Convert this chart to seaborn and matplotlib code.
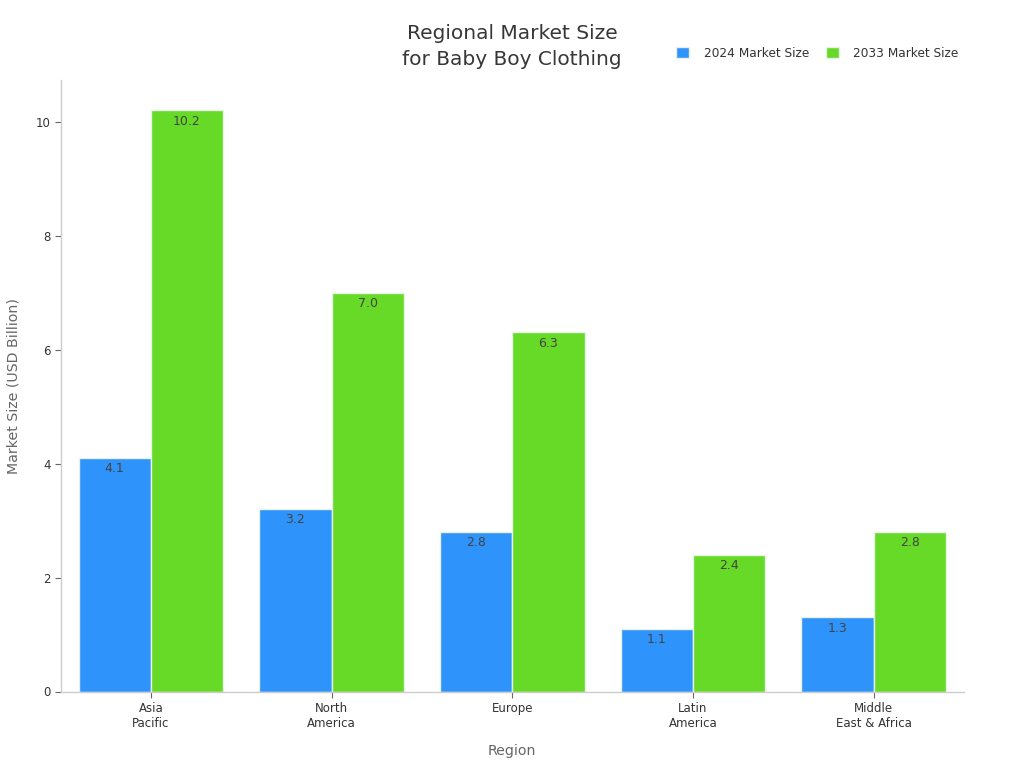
import pandas as pd
import matplotlib
matplotlib.use("Agg")
import matplotlib.pyplot as plt
import seaborn as sns

# --- Data ---
REGIONS = ["Asia\nPacific", "North\nAmerica", "Europe", "Latin\nAmerica", "Middle\nEast & Africa"]
SIZE_2024 = [4.1, 3.2, 2.8, 1.1, 1.3]
SIZE_2033 = [10.2, 7.0, 6.3, 2.4, 2.8]
Y_TICKS = [0, 2, 4, 6, 8, 10]

# --- Style ---
BLUE = "#2E93FA"
GREEN = "#66DA26"
TEXT = "#373737"
MUTED = "#666666"
AXIS = "#cccccc"

sns.set_theme(style="white")
plt.rcParams["font.family"] = ["DejaVu Sans"]

df = pd.DataFrame({
    "Region": REGIONS * 2,
    "Size": SIZE_2024 + SIZE_2033,
    "Series": ["2024 Market Size"] * 5 + ["2033 Market Size"] * 5,
})

fig = plt.figure(figsize=(10.24, 7.68), dpi=100)
ax = fig.add_axes([60.5 / 1024, 1 - 691.5 / 768, 903.5 / 1024, 611.5 / 768])

sns.barplot(data=df, x="Region", y="Size", hue="Series", order=REGIONS,
            palette=[BLUE, GREEN], width=0.8, gap=0, saturation=1,
            edgecolor="#e8f2e8", linewidth=1, ax=ax, legend=True)

for container in ax.containers:
    ax.bar_label(container, fmt="%.1f", label_type="edge", padding=-12.5,
                 fontsize=9, color="#444444")

ax.set_xlim(-0.5, 4.5)
ax.set_ylim(0, 10.73)
ax.set_yticks(Y_TICKS)
ax.tick_params(axis="both", labelsize=8.5, labelcolor="#333333", color=MUTED,
               length=4, width=0.8, bottom=True, left=True, pad=3)
ax.tick_params(axis="x", pad=3.8)

sns.despine(ax=ax)
for side in ["left", "bottom"]:
    ax.spines[side].set_color(AXIS)
    ax.spines[side].set_linewidth(1)

ax.set_xlabel("Region", fontsize=10.2, color=MUTED, labelpad=9.7)
ax.set_ylabel("Market Size (USD Billion)", fontsize=10.2, color=MUTED, labelpad=10.8)

fig.text(512 / 1024, 1 - 46.5 / 768, "Regional Market Size\nfor Baby Boy Clothing",
         ha="center", va="center", fontsize=14.5, color=TEXT, linespacing=1.42)

handles, labels = ax.get_legend_handles_labels()
ax.legend(handles, labels, loc="center right", ncol=2, frameon=False, fontsize=8.75,
          bbox_to_anchor=(969.5 / 1024, 1 - 53.5 / 768), bbox_transform=fig.transFigure,
          handlelength=1.05, handleheight=1.05, handletextpad=1.2, columnspacing=1.4,
          labelcolor="#333333")

fig.savefig("out.png", dpi=100)
